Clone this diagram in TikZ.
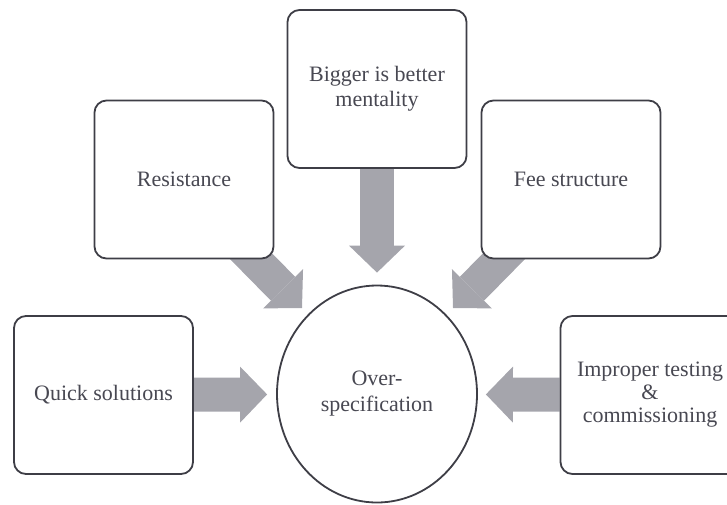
\documentclass[tikz,border=0pt]{standalone}
\usepackage{fontspec}
\setmainfont{Liberation Serif}
\usetikzlibrary{arrows.meta}
\usetikzlibrary{shapes.geometric}
\usetikzlibrary{backgrounds}
\definecolor{mgrey}{RGB}{165, 165, 172}
\definecolor{mdark}{RGB}{62, 62, 70}
\definecolor{mtext}{RGB}{72, 72, 82}
\tikzset{box/.style = {draw=mdark, line width=1.8pt, rounded corners=12pt, fill=white,
                       minimum width=179pt, minimum height=158pt, align=center,
                       text=mtext, font=\fontsize{22}{25}\selectfont}}
\tikzset{hub/.style = {ellipse, draw=mdark, line width=1.8pt, fill=white,
                       minimum width=200pt, minimum height=217pt, align=center,
                       text=mtext, font=\fontsize{22}{26}\selectfont}}
\tikzset{fat/.style = {draw=mgrey, line width=34pt,
                       -{Triangle[width=56pt, length=27pt, line width=0pt]}}}

\begin{document}
\begin{tikzpicture}[x=1pt, y=-1pt]
    \path [use as bounding box, clip] (0, 0) rectangle (727, 504);

    \node [hub] (over) at (377, 394) {Over-\\specification};

    \node [box] (bigger) at (377, 89) {Bigger is better\\mentality};
    \node [box] (resist) at (184, 179.5) {Resistance};
    \node [box] (fee) at (571, 179.5) {Fee structure};
    \node [box] (quick) at (103.5, 395) {Quick solutions};
    \node [box, font=\fontsize{22}{23}\selectfont] (improper) at (650, 395)
      {Improper testing\\\&\\commissioning};

    \coordinate (rtip) at (302, 308);
    \coordinate (ftip) at (453, 308);

    \begin{pgfonlayer}{background}
      \draw [fat, shorten >=9pt] (quick) -- (over);
      \draw [fat, shorten >=8pt] (improper) -- (over);
      \draw [fat, shorten >=12pt] (bigger) -- (over);
      \draw [fat] (resist.south east) ++(-33, -13) -- (rtip);
      \draw [fat] (fee.south west) ++(33, -13) -- (ftip);
    \end{pgfonlayer}

  \end{tikzpicture}
\end{document}
